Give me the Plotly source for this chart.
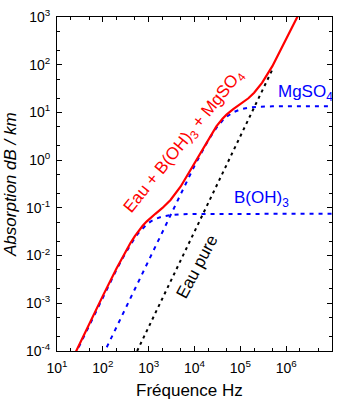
import plotly.graph_objects as go

# --- data (frequency in Hz, absorption in dB/km) ---
freq_eau = [560, 4.9e5]
abs_eau = [1.0e-4, 76]

freq_bor = [20, 100, 200, 300, 400, 500, 600, 740, 900, 1100, 1400, 2000, 3000, 5000, 1e4, 1e7]
abs_bor = [5.5e-5, 0.00135, 0.0051, 0.0106, 0.0170, 0.0235, 0.0298, 0.0375, 0.0448,
           0.0516, 0.0586, 0.0660, 0.0707, 0.0734, 0.0746, 0.075]

freq_mg = [100, 1000, 5000, 1e4, 2e4, 3e4, 4.08e4, 5e4, 7e4, 1e5, 1.5e5, 2.5e5, 5e5, 1e6, 1e7]
abs_mg = [8.1e-5, 0.0081, 0.200, 0.765, 2.62, 4.74, 6.75, 8.10, 10.08, 11.57, 12.57,
          13.15, 13.41, 13.48, 13.5]

freq_tot = [20, 30, 50, 100, 200, 300, 400, 500, 600, 740, 900, 1100, 1400, 2000, 3000,
            5000, 1e4, 2e4, 3e4, 4.08e4, 5e4, 7e4, 1e5, 1.5e5, 2e5, 3e5, 5e5, 1e6, 2e6]
abs_tot = [5.8e-5, 1.31e-4, 3.62e-4, 0.00143, 0.00544, 0.01135, 0.0183, 0.0256, 0.0328,
           0.0421, 0.0516, 0.0618, 0.0751, 0.0996, 0.146, 0.281, 0.872, 2.82, 5.10, 7.36,
           8.98, 11.7, 14.8, 19.8, 25.8, 42.0, 93.2, 332, 1290]

x_tick_vals = [1e1, 1e2, 1e3, 1e4, 1e5, 1e6]
x_tick_text = ["10<sup>1</sup>", "10<sup>2</sup>", "10<sup>3</sup>", "10<sup>4</sup>",
               "10<sup>5</sup>", "10<sup>6</sup>"]
y_tick_vals = [1e-4, 1e-3, 1e-2, 1e-1, 1e0, 1e1, 1e2, 1e3]
y_tick_text = ["10<sup>-4</sup>", "10<sup>-3</sup>", "10<sup>-2</sup>", "10<sup>-1</sup>",
               "10<sup>0</sup>", "10<sup>1</sup>", "10<sup>2</sup>", "10<sup>3</sup>"]

FONT = "Liberation Sans, Arial, Helvetica, sans-serif"

fig = go.Figure()
fig.add_trace(go.Scatter(x=freq_eau, y=abs_eau, mode="lines",
                         line=dict(color="black", width=2, dash="3px,4px"), showlegend=False))
fig.add_trace(go.Scatter(x=freq_bor, y=abs_bor, mode="lines",
                         line=dict(color="#0000ff", width=2, dash="4px,5px"), showlegend=False))
fig.add_trace(go.Scatter(x=freq_mg, y=abs_mg, mode="lines",
                         line=dict(color="#0000ff", width=2, dash="4px,5px"), showlegend=False))
fig.add_trace(go.Scatter(x=freq_tot, y=abs_tot, mode="lines",
                         line=dict(color="#ff0000", width=2.2), showlegend=False))

axis_common = dict(
    type="log", showgrid=False, zeroline=False, showline=True, linecolor="black",
    linewidth=1, mirror="allticks", ticks="inside", ticklen=5, tickcolor="black",
    tickfont=dict(family=FONT, size=14, color="black"),
    minor=dict(ticks="inside", ticklen=3, tickcolor="black", showgrid=False),
)
fig.update_xaxes(range=[1, 7], tickvals=x_tick_vals, ticktext=x_tick_text,
                 ticklabelstandoff=4, **axis_common)
fig.update_yaxes(range=[-4, 3], tickvals=y_tick_vals, ticktext=y_tick_text,
                 ticklabelstandoff=3, **axis_common)

annotations = [
    dict(text="Eau + B(OH)<sub>3</sub> + MgSO<sub>4</sub>", x=0.462, y=0.626, textangle=-51,
         font=dict(color="#ff0000", size=17)),
    dict(text="Eau pure", x=0.509, y=0.254, textangle=-62, font=dict(color="black", size=17)),
    dict(text="MgSO<sub>4</sub>", x=0.796, y=0.772, xanchor="left",
         font=dict(color="#0000ff", size=17)),
    dict(text="B(OH)<sub>3</sub>", x=0.636, y=0.455, xanchor="left",
         font=dict(color="#0000ff", size=17)),
    dict(text="<i>Absorption dB / km</i>", x=-0.171, y=0.5, textangle=-90,
         font=dict(color="black", size=17)),
    dict(text="Fréquence Hz", x=0.48, y=-0.118,
         font=dict(color="black", size=17)),
]
for a in annotations:
    a.setdefault("xanchor", "center")
    a.setdefault("yanchor", "middle")
    a.update(xref="paper", yref="paper", showarrow=False)
    a["font"]["family"] = FONT

fig.update_layout(
    width=337, height=400,
    margin=dict(l=57, r=5, t=17, b=49),
    paper_bgcolor="white", plot_bgcolor="white",
    annotations=annotations,
)

fig.write_html("out.html")
